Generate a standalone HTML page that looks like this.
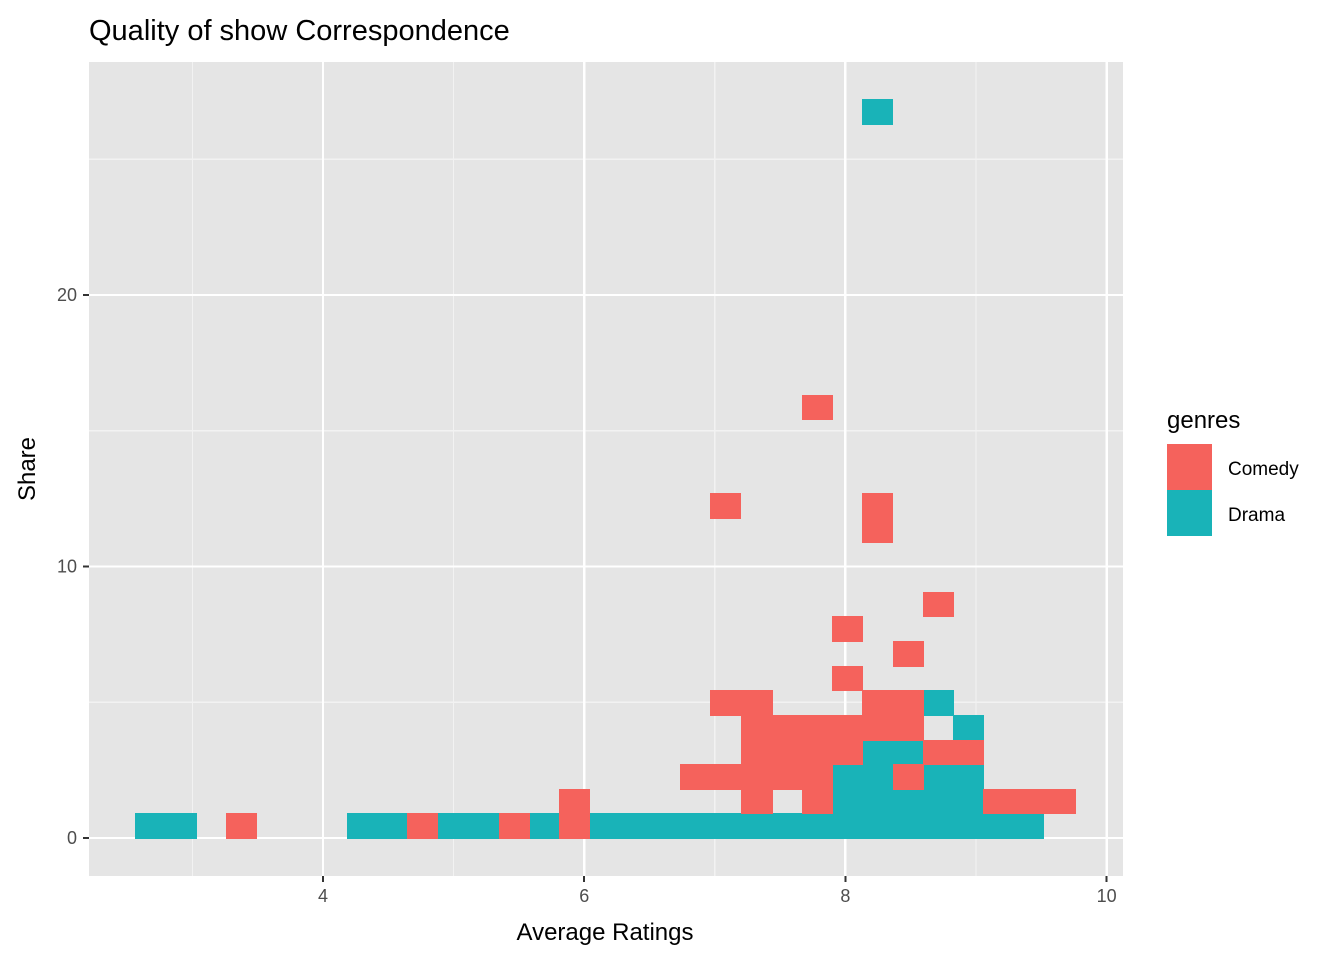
<!DOCTYPE html>
<html><head><meta charset="utf-8"><style>
body{margin:0;background:#fff;}
svg{display:block;font-family:"Liberation Sans",Arial,sans-serif;}
</style></head><body>
<svg id="chart" width="1344" height="960" shape-rendering="crispEdges">
<text x="89" y="40" font-size="29" fill="#000" shape-rendering="auto">Quality of show Correspondence</text>
<rect x="89" y="62" width="1034" height="814" fill="#E5E5E5"/>
<g id="grid"></g>
<g id="tiles"></g>
<g id="axes"></g>
<text x="605" y="940" font-size="24" text-anchor="middle" fill="#000">Average Ratings</text>
<text transform="translate(35,469) rotate(-90)" font-size="24" text-anchor="middle" fill="#000">Share</text>
<g>
<text x="1167" y="428" font-size="24" fill="#000">genres</text>
<rect x="1167" y="444" width="45" height="46" fill="#F5625C"/>
<text x="1228" y="475" font-size="19" fill="#000">Comedy</text>
<rect x="1167" y="490" width="45" height="46" fill="#19B3B8"/>
<text x="1228" y="521" font-size="19" fill="#000">Drama</text>
</g>
</svg>
<script>
const xTicks=[4,6,8,10];
const xMinor=[3,5,7,9];
const yTicks=[0,10,20];
const yMinor=[5,15,25];
const binW=0.232, binH=0.907;
const comedyX=[3.37,4.76,5.46,5.92, 5.92,7.32,7.78,9.17,9.40,9.64, 6.85,7.08,7.32,7.55,7.78,8.48, 7.32,7.55,7.78,8.01,8.71,8.94, 7.32,7.55,7.78,8.01,8.24,8.48, 7.08,7.32,8.24,8.48, 8.01,8.48,8.01,8.71,8.24,7.08,8.24,7.78];
const comedyY=[0.45,0.45,0.45,0.45, 1.36,1.36,1.36,1.36,1.36,1.36, 2.27,2.27,2.27,2.27,2.27,2.27, 3.17,3.17,3.17,3.17,3.17,3.17, 4.08,4.08,4.08,4.08,4.08,4.08, 4.99,4.99,4.99,4.99, 5.90,6.80,7.71,8.62,11.34,12.25,12.25,15.87];
const dramaX=[2.68,2.91,4.30,4.53,4.99,5.23,5.69,6.16,6.39,6.62,6.85,7.08,7.32,7.55,7.78,8.01,8.24,8.48,8.71,8.94,9.17,9.40, 8.01,8.24,8.48,8.71,8.94, 8.01,8.24,8.71,8.94, 8.24,8.48, 8.94, 8.71, 8.24];
const dramaY=[0.45,0.45,0.45,0.45,0.45,0.45,0.45,0.45,0.45,0.45,0.45,0.45,0.45,0.45,0.45,0.45,0.45,0.45,0.45,0.45,0.45,0.45, 1.36,1.36,1.36,1.36,1.36, 2.27,2.27,2.27,2.27, 3.17,3.17, 4.08, 4.99, 26.76];
const NS='http://www.w3.org/2000/svg';
const xs=v=>323+(v-4)*130.6;
const ys=v=>838-v*27.15;
function mk(tag,attrs,parent){const e=document.createElementNS(NS,tag);for(const k in attrs)e.setAttribute(k,attrs[k]);parent.appendChild(e);return e;}
const grid=document.getElementById('grid'),tiles=document.getElementById('tiles'),axes=document.getElementById('axes');
xMinor.forEach(v=>{const l=mk('line',{x1:xs(v),x2:xs(v),y1:62,y2:876,stroke:'#F2F2F2','stroke-width':1.2},grid);

});
yMinor.forEach(v=>{const l=mk('line',{x1:89,x2:1123,y1:ys(v),y2:ys(v),stroke:'#F2F2F2','stroke-width':1.2},grid);

});
xTicks.forEach(v=>{const l=mk('line',{x1:xs(v),x2:xs(v),y1:62,y2:876,stroke:'#fff','stroke-width':2.4},grid);


const t=mk('line',{x1:xs(v),x2:xs(v),y1:876,y2:882,stroke:'#333','stroke-width':2},axes);


const tx=mk('text',{x:xs(v),y:902,'font-size':18,'text-anchor':'middle',fill:'#4D4D4D'},axes);tx.textContent=v;

});
yTicks.forEach(v=>{const l=mk('line',{x1:89,x2:1123,y1:ys(v),y2:ys(v),stroke:'#fff','stroke-width':2.4},grid);


const t=mk('line',{x1:83,x2:89,y1:ys(v),y2:ys(v),stroke:'#333','stroke-width':2},axes);


const tx=mk('text',{x:77,y:ys(v)+6,'font-size':18,'text-anchor':'end',fill:'#4D4D4D'},axes);tx.textContent=v;

});
function drawTiles(X,Y,color,name){X.forEach((x,i)=>{const y=Y[i];
const x0=Math.round(xs(x-binW/2)),x1=Math.round(xs(x+binW/2)),y0=Math.round(ys(y+binH/2)),y1=Math.round(ys(y-binH/2));
const r=mk('rect',{x:x0,y:y0,width:x1-x0+1,height:y1-y0+1,fill:color},tiles);

});}
drawTiles(dramaX,dramaY,'#19B3B8','drama-tile');
drawTiles(comedyX,comedyY,'#F5625C','comedy-tile');
</script>
</body></html>
